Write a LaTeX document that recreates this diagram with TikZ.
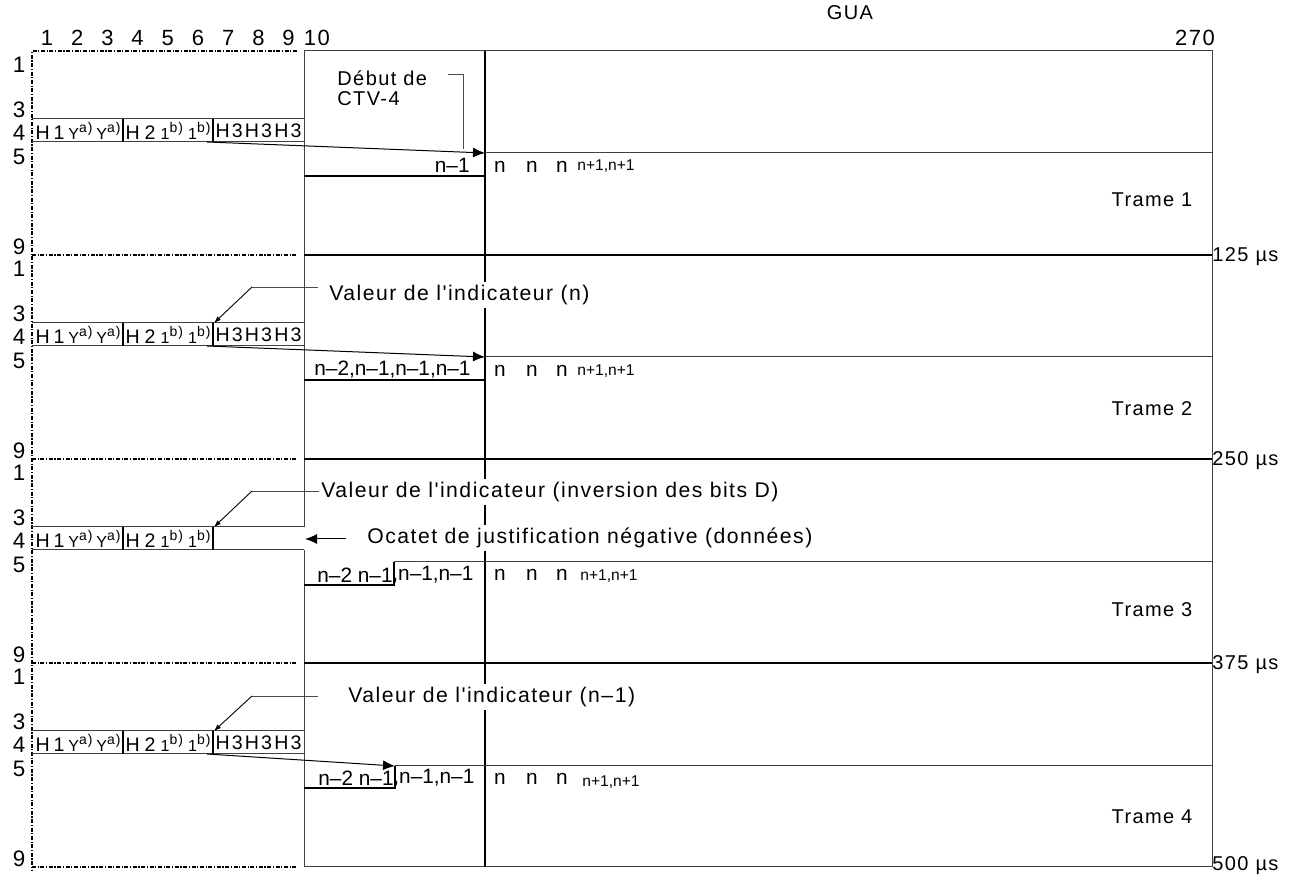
\documentclass[tikz,border=0pt]{standalone}
\usepackage{fontspec}
\setmainfont{Liberation Sans}[LetterSpace=7,Ligatures=TeXOff]
\newfontfamily\tightfont{Liberation Sans}[Ligatures=TeXOff]
\usetikzlibrary{arrows.meta}
\newcommand\supx[1]{\raisebox{0.4em}{\fontsize{7}{8}\selectfont #1}}
\newcommand\smallY{{\fontsize{8}{9}\selectfont Y}}
\newcommand\smallOne{{\fontsize{8}{9}\selectfont 1}}
\begin{document}
\begin{tikzpicture}[x=0.5pt,y=-0.5pt,
  thinln/.style={line width=0.5pt,draw=black!75},
  leadln/.style={line width=0.45pt,draw=black!70},
  thickln/.style={line width=1.1pt,draw=black},
  dashln/.style={line width=0.6pt,draw=black,dash pattern=on 2pt off 0.8pt on 0.6pt off 0.8pt},
  lbl/.style={inner sep=0pt,font=\fontsize{10}{12}\selectfont},
  wlbl/.style={inner sep=0pt,font=\fontsize{10.6}{12}\selectfont,fill=white,inner xsep=1pt,inner ysep=1.5pt,anchor=west},
  colnum/.style={inner sep=0pt,font=\fontsize{11}{12}\selectfont},
  rowlbl/.style={inner sep=0pt,font=\fontsize{11.2}{12}\selectfont},
  celltxt/.style={inner sep=0pt,font=\fontsize{9.8}{10}\selectfont},
  ntxt/.style={inner sep=0pt,font=\tightfont\fontsize{10.4}{12}\selectfont},
  nsmall/.style={inner sep=0pt,font=\tightfont\fontsize{7.8}{9}\selectfont,anchor=west},
  bigtip/.style={-{Latex[length=6pt,width=5pt]}},
  smalltip/.style={-{Latex[length=3.5pt,width=2.5pt]}}
]
\useasboundingbox (0,0) rectangle (1292,876);

% column header
\foreach \i in {1,...,9}{
  \pgfmathsetmacro\cx{47+30.2*(\i-1)}
  \node[colnum] (c\i) at (\cx,38) {\i};
}
\node[colnum] (c10) at (317,38) {10};
\node[colnum] (c270) at (1195,38) {270};
\node[lbl] (gua) at (850,13) {GUA};

% dashed left frame
\draw[dashln] (297,51) -- (32,51) -- (32,870);
\foreach \yy in {255,459,663,867}{
  \draw[dashln] (32,\yy) -- (297,\yy);
}

% main rectangle
\coordinate (rtl) at (304,51);
\coordinate (rtr) at (1212,51);
\coordinate (rbr) at (1212,867);
\coordinate (rbl) at (304,867);
\coordinate (gapt) at (304,527);
\coordinate (gapb) at (304,550);
\draw[thinln] (gapt) -- (rtl) -- (rtr) -- (rbr) -- (rbl) -- (gapb);

% frame separators and times
\foreach \yy/\tt in {255/125,459/250,663/375}{
  \draw[thickln] (304,\yy) -- (1212,\yy);
  \node[lbl,anchor=west] (t\tt) at (1212,\yy+2) {\tt\ µs};
}
\node[lbl,anchor=west] (t500) at (1212,866) {500 µs};

% per-frame common parts
\foreach \k/\yo/\ty in {1/51/200,2/255/409,3/459/610,4/663/817}{
  \node[rowlbl] (ra\k) at (19,\yo+14) {1};
  \node[rowlbl] (rc\k) at (19,\yo+59) {3};
  \node[rowlbl] (rd\k) at (19,\yo+82) {4};
  \node[rowlbl] (re\k) at (19,\yo+106) {5};
  \node[rowlbl] (ri\k) at (19,\yo+196) {9};
  \draw[thinln] (304,\yo+68) -- (32,\yo+68);
  \draw[thinln] (32,\yo+91) -- (304,\yo+91);
  \draw[thickln] (123,\yo+68) -- (123,\yo+91);
  \draw[thickln] (213,\yo+68) -- (213,\yo+91);
  \node[celltxt] (ha\k) at (78,\yo+80) {\makebox[42.5pt][s]{H\hfil 1\hfil\smallY\supx{a)}\hfil\smallY\supx{a)}}};
  \node[celltxt] (hb\k) at (168,\yo+80) {\makebox[42.5pt][s]{H\hfil 2\hfil\smallOne\supx{b)}\hfil\smallOne\supx{b)}}};
  \node[lbl] (tr\k) at (1152,\ty) {Trame \k};
  \node[ntxt] (na\k) at (500,\yo+116) {n};
  \node[ntxt] (nb\k) at (532,\yo+116) {n};
  \node[ntxt] (nc\k) at (562,\yo+116) {n};
}
\foreach \k/\yo in {1/51,2/255,4/663}{
  \node[celltxt] (hc\k) at (258.5,\yo+80) {\makebox[43pt][s]{H\hfil 3\hfil H\hfil 3\hfil H\hfil 3}};
}
\node[nsmall] (np1) at (577,166) {n+1,n+1};
\node[nsmall] (np2) at (577,371) {n+1,n+1};
\node[nsmall] (np3) at (580,576) {n+1,n+1};
\node[nsmall] (np4) at (582,782) {n+1,n+1};

% main vertical
\coordinate (vt) at (485,51);
\coordinate (vb) at (485,867);
\draw[thickln] (vt) -- (vb);

% ---------- Frame 1
\coordinate (a1s) at (207,142);
\coordinate (a1e) at (485,153);
\coordinate (l1e) at (1212,153);
\draw[thinln,draw=black,bigtip] (a1s) -- (a1e);
\draw[thinln] (a1e) -- (l1e);
\coordinate (k1a) at (304,176);
\coordinate (k1b) at (485,176);
\draw[thickln] (k1a) -- (k1b);
\node[ntxt,anchor=east] (m1) at (470,165) {n–1};
\node[lbl,anchor=west] (deb1) at (337,78) {Début de};
\node[lbl,anchor=west] (deb2) at (337,99) {CTV-4};
\coordinate (d1a) at (448,74);
\coordinate (d1b) at (463,74);
\coordinate (d1c) at (463,149);
\draw[leadln] (d1a) -- (d1b) -- (d1c);

% ---------- Frame 2
\coordinate (a2s) at (207,346);
\coordinate (a2e) at (485,357);
\coordinate (l2e) at (1212,357);
\draw[thinln,draw=black,bigtip] (a2s) -- (a2e);
\draw[thinln] (a2e) -- (l2e);
\coordinate (k2a) at (304,380);
\coordinate (k2b) at (485,380);
\draw[thickln] (k2a) -- (k2b);
\node[ntxt,anchor=west] (m2) at (314,370) {n–2,n–1,n–1,n–1};
\node[wlbl] (v2) at (327,295) {Valeur de l'indicateur (n)};
\coordinate (v2a) at (318,287);
\coordinate (v2b) at (252,287);
\coordinate (v2c) at (214,323);
\draw[leadln] (v2a) -- (v2b);
\draw[leadln,draw=black,smalltip] (v2b) -- (v2c);

% ---------- Frame 3
\node[wlbl] (v3) at (319,492) {Valeur de l'indicateur (inversion des bits D)};
\coordinate (v3a) at (319,491);
\coordinate (v3b) at (252,491);
\coordinate (v3c) at (214,527);
\draw[leadln] (v3a) -- (v3b);
\draw[leadln,draw=black,smalltip] (v3b) -- (v3c);
\node[wlbl] (oc3) at (365,538) {Ocatet de justification négative (données)};
\coordinate (o3a) at (346,539);
\coordinate (o3b) at (305,539);
\draw[thinln,draw=black,bigtip] (o3a) -- (o3b);
\coordinate (k3a) at (304,585);
\coordinate (k3b) at (394,585);
\coordinate (k3c) at (394,562);
\coordinate (l3e) at (1212,562);
\draw[thickln] (k3a) -- (k3b) -- (k3c);
\draw[thinln] (k3c) -- (l3e);
\node[ntxt,anchor=east] (m3a) at (393,575) {n–2 n–1};
\node[ntxt,anchor=west] (m3b) at (392,575) {,n–1,n–1};

% ---------- Frame 4
\node[wlbl] (v4) at (346,697) {Valeur de l'indicateur (n–1)};
\coordinate (v4a) at (318,696);
\coordinate (v4b) at (252,696);
\coordinate (v4c) at (214,731);
\draw[leadln] (v4a) -- (v4b);
\draw[leadln,draw=black,smalltip] (v4b) -- (v4c);
\coordinate (a4s) at (207,754);
\coordinate (a4e) at (395,766);
\coordinate (l4e) at (1212,766);
\draw[thinln,draw=black,bigtip] (a4s) -- (a4e);
\draw[thinln] (a4e) -- (l4e);
\coordinate (k4a) at (304,788);
\coordinate (k4b) at (395,788);
\draw[thickln] (k4a) -- (k4b) -- (a4e);
\node[ntxt,anchor=east] (m4a) at (394,778) {n–2 n–1};
\node[ntxt,anchor=west] (m4b) at (393,778) {,n–1,n–1};
\end{tikzpicture}
\end{document}
